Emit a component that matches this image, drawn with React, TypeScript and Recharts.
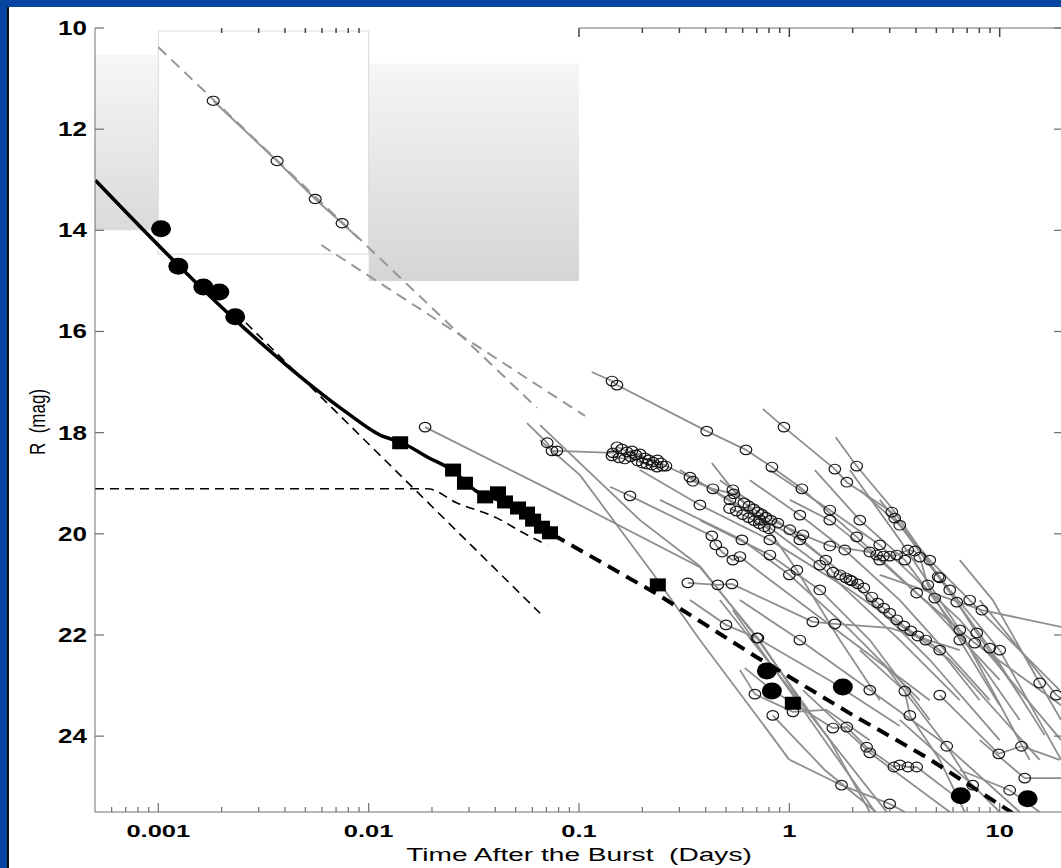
import React from "react";
import {
  ComposedChart,
  Line,
  Scatter,
  XAxis,
  YAxis,
  ReferenceArea,
  ReferenceLine,
} from "recharts";

// [days, R mag, 1 = observed point drawn as an open circle]
type Row = [number, number, number?];

const xTicks = [
  0.0006, 0.0007, 0.0008, 0.0009, 0.001, 0.002, 0.003, 0.004, 0.005, 0.006, 0.007, 0.008, 0.009,
  0.01, 0.02, 0.03, 0.04, 0.05, 0.06, 0.07, 0.08, 0.09, 0.1, 0.2, 0.3, 0.4, 0.5, 0.6, 0.7, 0.8,
  0.9, 1, 2, 3, 4, 5, 6, 7, 8, 9, 10, 20,
];
const xMajor = [0.001, 0.01, 0.1, 1, 10];
const yTicks = [10, 12, 14, 16, 18, 20, 22, 24];
// ticks along the top frame (only where the frame is drawn)
const topTicks = xTicks.filter((v) => (v >= 0.002 && v <= 0.0095) || v >= 0.099);

// limit boxes (shaded) and the white inset box
const shadeBoxes = [
  { x1: 0.0005, x2: 0.001, y1: 10.53, y2: 14.0, fill: "url(#shadeA)" },
  { x1: 0.01, x2: 0.1, y1: 10.7, y2: 15.0, fill: "url(#shadeB)" },
];
const insetBox = { x1: 0.001, x2: 0.01, y1: 10.06, y2: 14.47 };

// the bright burst: filled circles, squares, model curves
const flashDots: Row[] = [[0.00103, 13.97], [0.001245, 14.71], [0.001637, 15.12], [0.00195, 15.22], [0.00232, 15.71]];
const lateDots: Row[] = [[0.782, 22.71], [0.826, 23.11], [1.796, 23.03], [6.53, 25.18], [13.58, 25.24]];
const squares: Row[] = [
  [0.01412, 18.2], [0.0252, 18.74], [0.0287, 19.0], [0.0358, 19.27], [0.0412, 19.19], [0.0445, 19.37],
  [0.0513, 19.49], [0.0566, 19.59], [0.0605, 19.73], [0.0667, 19.87], [0.0728, 19.98], [0.237, 21.01], [1.039, 23.35],
];
const fitSolid: Row[] = [
  [0.000502, 13.01], [0.001245, 14.69], [0.00232, 15.77], [0.0038, 16.56], [0.00545, 17.1], [0.0079, 17.61],
  [0.01135, 18.05], [0.0144, 18.2], [0.019, 18.48], [0.0249, 18.74], [0.0328, 19.17], [0.0435, 19.37],
  [0.0486, 19.47], [0.0543, 19.57], [0.0585, 19.69], [0.0632, 19.83], [0.0705, 19.96], [0.0754, 20.02],
];
const fitLate: Row[] = [[0.0754, 20.02], [0.237, 21.2], [0.7, 22.44], [1.94, 23.55], [4.5, 24.42], [11.5, 25.52]];
const reverseShock: Row[] = [[0.00232, 15.62], [0.0653, 21.57]];
const forwardShock: Row[] = [[0.0005, 19.11], [0.019, 19.11], [0.0263, 19.39], [0.0408, 19.69], [0.0543, 19.98], [0.0705, 20.22]];

// grey model lines at the top
const greyDashA: Row[] = [[0.001, 10.38], [0.0631, 17.51]];
const greyDashB: Row[] = [[0.00595, 14.29], [0.1068, 17.67]];
const greySolidA: Row[] = [[0.001824, 11.44, 1], [0.00367, 12.63, 1], [0.00557, 13.38, 1], [0.00748, 13.86, 1], [0.00892, 14.15]];

// other afterglows (grey lines, open circles)
const ag01: Row[] = [[0.115, 16.8], [0.1435, 16.98, 1], [0.1515, 17.06, 1], [0.405, 17.97, 1], [0.622, 18.34, 1], [0.826, 18.68, 1], [1.147, 19.11, 1], [2.09, 20.06, 1], [4.03, 21.17, 1], [7.61, 22.16, 1], [19.6, 23.39]];
const ag02: Row[] = [[0.748, 17.53], [0.942, 17.89, 1], [1.645, 18.72, 1], [1.876, 18.98, 1], [3.07, 19.57, 1], [3.17, 19.69, 1], [5.1, 20.85, 1], [6.25, 21.35, 1], [7.78, 21.96, 1], [12.45, 23.19]];
const ag03: Row[] = [[1.66, 18.09], [2.09, 18.66, 1], [3.07, 19.49], [5.19, 20.87, 1], [8.96, 22.26, 1], [16.36, 23.98]];
const ag04: Row[] = [
  [0.0566, 17.81], [0.0706, 18.2, 1], [0.0744, 18.36, 1], [0.0785, 18.36, 1], [0.145, 18.4, 1], [0.1515, 18.28, 1],
  [0.16, 18.32, 1], [0.169, 18.38, 1], [0.1786, 18.36, 1], [0.1864, 18.44, 1], [0.1949, 18.42, 1], [0.2058, 18.5, 1],
  [0.215, 18.54, 1], [0.2247, 18.58, 1], [0.236, 18.54, 1], [0.2452, 18.6, 1], [0.259, 18.66, 1], [0.3368, 18.88, 1],
  [0.348, 18.96, 1], [0.433, 19.11, 1], [0.545, 19.21, 1], [0.608, 19.39, 1], [0.642, 19.45, 1], [0.678, 19.51, 1],
  [0.709, 19.57, 1], [0.74, 19.61, 1], [0.773, 19.67, 1], [0.817, 19.73, 1], [0.882, 19.79, 1], [1.16, 20.02, 1],
  [1.557, 20.24, 1], [2.413, 20.36, 1], [2.6, 20.42, 1], [2.8, 20.44, 1], [3.0, 20.44, 1], [3.24, 20.42, 1],
  [3.66, 20.32, 1], [3.95, 20.34, 1], [4.17, 20.46, 1], [4.55, 21.01, 1], [4.91, 21.27, 1], [6.46, 22.1, 1], [10.0, 23.39],
];
const ag05: Row[] = [[0.1435, 18.46, 1], [0.155, 18.5, 1], [0.165, 18.52, 1], [0.176, 18.48, 1], [0.19, 18.56, 1], [0.2, 18.6, 1], [0.21, 18.62, 1], [0.222, 18.64, 1], [0.235, 18.68, 1], [0.25, 18.66, 1]];
const ag06: Row[] = [[0.52, 19.5, 1], [0.56, 19.55, 1], [0.6, 19.62, 1], [0.64, 19.68, 1], [0.68, 19.74, 1], [0.72, 19.8, 1], [0.76, 19.86, 1], [0.8, 19.9, 1]];
const ag07: Row[] = [
  [0.376, 18.98], [0.522, 19.33, 1], [1.122, 20.12, 1], [1.49, 20.52, 1], [1.61, 20.76, 1], [1.738, 20.81, 1],
  [1.855, 20.87, 1], [1.98, 20.93, 1], [2.115, 20.99, 1], [2.26, 21.07, 1], [2.465, 21.25, 1], [2.63, 21.37, 1],
  [2.81, 21.47, 1], [3.0, 21.57, 1], [3.24, 21.7, 1], [3.5, 21.82, 1], [3.78, 21.92, 1], [4.08, 22.02, 1],
  [4.45, 22.1, 1], [5.19, 22.3, 1], [8.04, 23.29],
];
const ag08: Row[] = [[0.01855, 17.89, 1], [0.0812, 19.23], [0.3757, 20.66], [0.709, 22.06, 1], [1.122, 23.29]];
const ag09: Row[] = [[0.1404, 19.07], [0.1747, 19.25, 1], [0.428, 20.04, 1], [0.447, 20.22, 1], [0.479, 20.36, 1], [0.539, 20.52, 1], [0.582, 20.45, 1], [0.724, 20.76], [1.939, 22.1], [4.65, 23.29]];
const ag10: Row[] = [[0.0653, 17.85], [0.1949, 19.73], [0.3757, 20.64], [0.7, 22.06], [1.557, 24.08], [2.413, 25.5]];
const ag11: Row[] = [[0.428, 18.6], [0.539, 19.13, 1], [0.782, 19.87], [1.086, 20.72, 1], [1.738, 22.1], [2.69, 23.29]];
const ag12: Row[] = [[0.329, 20.97, 1], [0.457, 21.01, 1], [0.533, 20.99, 1], [1.293, 21.74, 1], [1.645, 21.78, 1], [3.0, 21.86], [6.46, 22.3]];
const ag13: Row[] = [[0.614, 22.65], [0.826, 23.09], [1.61, 23.84, 1], [1.876, 23.82, 1], [2.33, 24.22, 1], [3.14, 24.61, 1], [3.35, 24.57, 1], [3.66, 24.61, 1], [4.03, 24.61, 1], [6.46, 25.26]];
const ag14: Row[] = [[0.834, 23.59, 1], [1.475, 24.67], [2.58, 25.5]];
const ag15: Row[] = [[0.539, 21.51], [2.58, 25.52]];
const ag16: Row[] = [[0.4676, 21.31], [2.93, 25.52]];
const ag17: Row[] = [[1.0055, 24.47], [1.77, 24.97, 1], [3.0, 25.34, 1], [3.54, 25.5]];
const ag18: Row[] = [[1.16, 23.09], [2.413, 24.33, 1], [5.79, 25.5]];
const ag19: Row[] = [[2.78, 22.55], [5.6, 24.2, 1], [7.61, 25.07]];
const ag20: Row[] = [[2.163, 22.3], [3.54, 23.11, 1], [3.74, 23.59, 1], [5.19, 24.47], [6.82, 25.5]];
const ag21: Row[] = [[5.19, 23.19, 1], [9.9, 24.35, 1], [12.7, 24.2, 1], [19.28, 24.47]];
const ag22: Row[] = [[8.04, 24.08], [13.15, 24.83, 1], [19.6, 24.83]];
const ag23: Row[] = [[3.35, 23.68], [7.44, 24.97, 1], [10.0, 25.5]];
const ag24: Row[] = [[6.46, 24.67], [11.16, 25.07, 1], [15.49, 25.5]];
const ag25: Row[] = [[6.46, 20.52], [9.27, 21.31], [15.49, 22.95, 1], [19.6, 23.68]];
const ag26: Row[] = [[8.04, 21.31], [18.6, 23.19, 1], [20.5, 23.3]];
const ag27: Row[] = [[2.69, 20.81], [8.23, 21.51, 1], [19.6, 21.84]];
const ag28: Row[] = [[0.2425, 19.33], [0.595, 20.12, 1], [1.0, 20.81, 1], [1.939, 21.9], [4.17, 23.29]];
const ag29: Row[] = [[0.3757, 19.73], [0.808, 20.42, 1], [1.396, 21.11, 1], [2.413, 22.1], [4.65, 23.68]];
const ag30: Row[] = [[0.649, 18.94], [1.122, 19.63, 1], [1.835, 20.32, 1], [3.35, 21.31], [8.96, 23.29]];
const ag31: Row[] = [[1.0055, 19.33], [1.557, 19.73, 1], [2.69, 20.52, 1], [4.65, 21.41], [10.0, 22.89]];
const ag32: Row[] = [[1.322, 18.74], [2.163, 19.73, 1], [3.54, 20.52, 1], [5.79, 21.7], [12.45, 23.68]];
const ag33: Row[] = [[1.939, 18.74], [3.35, 20.12], [6.46, 21.9, 1], [13.88, 24.47]];
const ag34: Row[] = [[2.69, 19.33], [4.65, 20.52, 1], [7.2, 21.31, 1], [19.28, 23.09]];
const ag35: Row[] = [[0.3368, 21.31], [0.5, 21.8, 1], [0.7, 22.06, 1], [1.557, 22.9], [3.35, 23.8]];
const ag36: Row[] = [[0.582, 22.69], [0.686, 23.17, 1], [1.04, 23.52, 1], [1.5, 23.48], [2.41, 24.08]];
const ag37: Row[] = [[0.0653, 18.15], [0.1011, 18.84], [0.236, 20.91], [0.3757, 22.1], [0.724, 23.68], [1.0, 24.47]];
const ag38: Row[] = [[0.302, 18.74], [0.724, 19.73, 1], [1.396, 20.62, 1], [3.35, 22.1], [6.46, 23.29]];
const ag39: Row[] = [[0.4676, 18.94], [1.0055, 19.92, 1], [1.939, 20.91, 1], [4.65, 22.49], [10.0, 24.08]];
const ag40: Row[] = [[0.808, 18.74], [1.557, 19.53, 1], [2.69, 20.22, 1], [6.46, 21.7], [19.6, 24.08]];
const ag41: Row[] = [[0.1949, 18.74], [0.3757, 19.43, 1], [0.808, 20.12, 1], [1.939, 21.11], [5.79, 22.49], [15.49, 24.47]];
const ag42: Row[] = [[2.163, 19.13], [3.35, 19.83, 1], [5.79, 21.11, 1], [10.0, 22.3, 1], [19.6, 24.47]];
const ag43: Row[] = [[0.582, 21.31], [1.122, 22.1, 1], [2.413, 23.09, 1], [5.19, 24.08], [12.45, 25.5]];

const afterglows = [
  ag01, ag02, ag03, ag04, ag05, ag06, ag07, ag08, ag09, ag10, ag11, ag12, ag13, ag14, ag15, ag16, ag17, ag18, ag19,
  ag20, ag21, ag22, ag23, ag24, ag25, ag26, ag27, ag28, ag29, ag30, ag31, ag32, ag33, ag34, ag35, ag36, ag37,
  ag38, ag39, ag40, ag41, ag42, ag43,
];

const PLOT_RIGHT = 1063;
const BLUE = "#0645a0";
const AXIS_GREY = "#6e6e6e";
const LINE_GREY = "#8e8e8e";
const FONT = "'Liberation Sans', Arial, Helvetica, sans-serif";

const pts = (rows: Row[]) => rows.map(([t, m, c]) => ({ t, m, c: !!c }));
const topTickPts = topTicks.map((t) => ({ t, m: 10 }));

const openDot = (rx: number, ry: number) => (props: any) => {
  const { cx, cy, payload, index } = props;
  if (!payload || !payload.c || cx == null) return <g key={`n${index}`} />;
  return <ellipse key={`o${index}`} cx={cx} cy={cy} rx={rx} ry={ry} fill="none" stroke="#151515" strokeWidth={1.2} />;
};

const FilledDot = (props: any) => <ellipse cx={props.cx} cy={props.cy} rx={10} ry={8.5} fill="#000" />;
const FilledSquare = (props: any) => <rect x={props.cx - 8} y={props.cy - 6.5} width={16} height={13} fill="#000" />;
const TopTickMark = (props: any) => {
  const major = xMajor.includes(props.payload?.t ?? props.t);
  return <line x1={props.cx} x2={props.cx} y1={props.cy} y2={props.cy + (major ? 9 : 5)} stroke="#444" strokeWidth={1.5} />;
};

const XTick = (props: any) => {
  const { x, y, payload } = props;
  const v = payload.value;
  const major = xMajor.includes(v);
  return (
    <g>
      <line x1={x} x2={x} y1={y} y2={y - (major ? 9 : 5)} stroke={AXIS_GREY} strokeWidth={1.2} />
      {major && (
        <text
          transform={`translate(${x},${y + 25}) scale(1.5,1)`}
          textAnchor="middle"
          fontFamily={FONT}
          fontWeight="bold"
          fontSize={17}
          fill="#000"
        >
          {String(v)}
        </text>
      )}
    </g>
  );
};

const YTick = (props: any) => {
  const { x, y, payload } = props;
  return (
    <g>
      <line x1={x} x2={x + 9} y1={y} y2={y} stroke={AXIS_GREY} strokeWidth={1.2} />
      <line x1={PLOT_RIGHT} x2={PLOT_RIGHT - 9} y1={y} y2={y} stroke={AXIS_GREY} strokeWidth={1.2} />
      <text
        transform={`translate(${x - 8},${y + 7}) scale(1.3,1)`}
        textAnchor="end"
        fontFamily={FONT}
        fontWeight="bold"
        fontSize={20}
        fill="#000"
      >
        {payload.value}
      </text>
    </g>
  );
};

export default function App() {
  return (
    <div style={{ position: "absolute", left: 0, top: 0, width: 1061, height: 868, overflow: "hidden", background: "#fff" }}>
      <svg width={0} height={0} style={{ position: "absolute" }}>
        <defs>
          <linearGradient id="shadeA" x1="0" y1="0" x2="0" y2="1">
            <stop offset="0%" stopColor="#f7f7f7" />
            <stop offset="100%" stopColor="#dadada" />
          </linearGradient>
          <linearGradient id="shadeB" x1="0" y1="0" x2="0" y2="1">
            <stop offset="0%" stopColor="#f6f6f6" />
            <stop offset="100%" stopColor="#d5d5d5" />
          </linearGradient>
        </defs>
      </svg>
      <div style={{ position: "absolute", left: 0, top: 0 }}>
        <ComposedChart width={1070} height={868} margin={{ top: 28, right: 7, bottom: 55, left: 94 }}>
          <XAxis
            dataKey="t"
            type="number"
            scale="log"
            domain={[0.0005, 20]}
            allowDataOverflow
            ticks={xTicks}
            interval={0}
            height={1}
            tickSize={0}
            tickMargin={0}
            tickLine={false}
            axisLine={{ stroke: AXIS_GREY }}
            tick={(p: any) => <XTick {...p} />}
          />
          <YAxis
            dataKey="m"
            type="number"
            domain={[10, 25.5]}
            reversed
            allowDataOverflow
            ticks={yTicks}
            interval={0}
            width={1}
            tickSize={0}
            tickMargin={0}
            tickLine={false}
            axisLine={{ stroke: AXIS_GREY }}
            tick={(p: any) => <YTick {...p} />}
          />
          {shadeBoxes.map((b, i) => (
            <ReferenceArea key={`s${i}`} x1={b.x1} x2={b.x2} y1={b.y1} y2={b.y2} fill={b.fill} fillOpacity={1} stroke="none" />
          ))}
          <ReferenceArea x1={insetBox.x1} x2={insetBox.x2} y1={insetBox.y1} y2={insetBox.y2} fill="#fff" fillOpacity={1} stroke="#dadada" strokeWidth={1} />
          <ReferenceLine segment={[{ x: 0.1, y: 10 }, { x: 20, y: 10 }]} stroke={AXIS_GREY} />

          <Line data={pts(greyDashA)} dataKey="m" stroke="#969696" strokeWidth={2} strokeDasharray="11 7" dot={false} activeDot={false} isAnimationActive={false} />
          <Line data={pts(greyDashB)} dataKey="m" stroke="#969696" strokeWidth={2} strokeDasharray="11 7" dot={false} activeDot={false} isAnimationActive={false} />
          <Line data={pts(greySolidA)} dataKey="m" stroke="#969696" strokeWidth={2} dot={openDot(6, 4.6)} activeDot={false} isAnimationActive={false} />

          {afterglows.map((rows, i) => (
            <Line
              key={`ag${i}`}
              data={pts(rows)}
              dataKey="m"
              stroke={LINE_GREY}
              strokeWidth={1.8}
              dot={openDot(5.8, 4.8)}
              activeDot={false}
              isAnimationActive={false}
            />
          ))}

          <Line data={pts(forwardShock)} type="monotone" dataKey="m" stroke="#000" strokeWidth={1.6} strokeDasharray="9 6" dot={false} activeDot={false} isAnimationActive={false} />
          <Line data={pts(reverseShock)} dataKey="m" stroke="#000" strokeWidth={1.6} strokeDasharray="9 6" dot={false} activeDot={false} isAnimationActive={false} />
          <Line data={pts(fitSolid)} type="monotone" dataKey="m" stroke="#000" strokeWidth={3.5} dot={false} activeDot={false} isAnimationActive={false} />
          <Line data={pts(fitLate)} dataKey="m" stroke="#000" strokeWidth={4} strokeDasharray="13 8" dot={false} activeDot={false} isAnimationActive={false} />

          <Scatter data={pts(flashDots)} shape={FilledDot} isAnimationActive={false} />
          <Scatter data={pts(lateDots)} shape={FilledDot} isAnimationActive={false} />
          <Scatter data={pts(squares)} shape={FilledSquare} isAnimationActive={false} />
          <Scatter data={topTickPts} shape={TopTickMark} isAnimationActive={false} />
        </ComposedChart>
      </div>
      <svg width={1061} height={868} style={{ position: "absolute", left: 0, top: 0, pointerEvents: "none" }}>
        <text
          transform="translate(579,861) scale(1.48,1)"
          textAnchor="middle"
          fontFamily={FONT}
          fontSize={19}
          fill="#000"
          style={{ whiteSpace: "pre" }}
        >
          {"Time After the Burst  (Days)"}
        </text>
        <text
          transform="translate(45,422) rotate(-90) scale(1,1.3)"
          textAnchor="middle"
          fontFamily={FONT}
          fontSize={17}
          fill="#000"
          style={{ whiteSpace: "pre" }}
        >
          {"R  (mag)"}
        </text>
      </svg>
      <div style={{ position: "absolute", left: 0, top: 0, width: 1061, height: 7, background: BLUE }} />
      <div style={{ position: "absolute", left: 0, top: 0, width: 7, height: 868, background: BLUE }} />
      <div style={{ position: "absolute", left: 7, top: 7, width: 2, height: 861, background: "#111" }} />
    </div>
  );
}
